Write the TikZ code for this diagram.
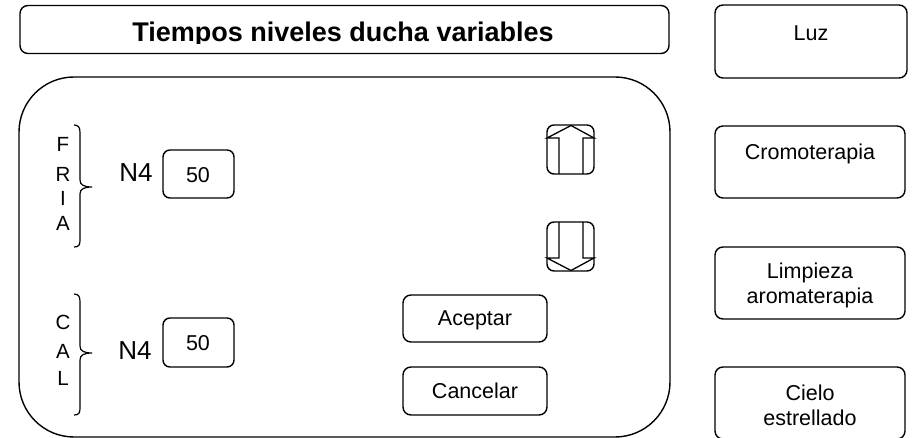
\documentclass[tikz,border=0pt]{standalone}
\usepackage{fontspec}
\setmainfont{Liberation Sans}
\begin{document}
\begin{tikzpicture}[x=1pt,y=-1pt,line width=1.4pt,
  rbox/.style={draw,rounded corners=8pt,minimum width=#1,inner sep=0pt},
  lbl/.style={font=\fontsize{21.5}{25}\selectfont,inner sep=0pt},
  big/.style={font=\fontsize{26}{30}\selectfont,inner sep=0pt},
  letter/.style={font=\fontsize{20.5}{24}\selectfont,inner sep=0pt}]
\useasboundingbox (0,0) rectangle (917,438);
% title
\node[rbox=649pt,minimum height=48pt] (title) at (344.5,29.5) {};
\begin{scope}
\clip (20,5) rectangle (669,44);
\node[anchor=base,inner sep=0pt,font=\fontsize{27}{31}\selectfont\bfseries] (ttext) at (343,42) {Tiempos niveles ducha variables};
\end{scope}
% right column
\node[rbox=192pt,minimum height=73pt] (luz) at (811,41.5) {};
\node[lbl] (luzt) at (811,33) {Luz};
\node[rbox=190pt,minimum height=72pt] (cromo) at (810,162) {};
\node[lbl] (cromot) at (810,154) {Cromoterapia};
\node[rbox=190pt,minimum height=72pt] (limp) at (810,283) {};
\node[lbl,align=center] (limpt) at (810,285) {Limpieza\\aromaterapia};
\node[rbox=190pt,minimum height=72pt] (cielo) at (810,403) {};
\node[lbl,align=center] (cielot) at (810,405) {Cielo\\estrellado};
% main panel
\node[draw,rounded corners=55pt,minimum width=651pt,minimum height=360pt,inner sep=0pt] (panel) at (344.5,257) {};
% FRIA
\node[letter] (f1) at (63,144) {F};
\node[letter] (f2) at (63,174) {R};
\node[letter] (f3) at (63,198) {I};
\node[letter] (f4) at (63,223) {A};
\draw[line width=1.2pt] (74,125) .. controls (79,125) and (80,128) .. (80,133) -- (80,180) .. controls (80,185) and (84,187) .. (92,187)
  .. controls (84,187) and (80,189) .. (80,194) -- (80,240) .. controls (80,245) and (79,247) .. (74,247);
\node[big] (n4a) at (136,173) {N4};
\node[draw,rounded corners=7pt,minimum width=71pt,minimum height=48pt,inner sep=0pt] (b50a) at (198.5,174) {};
\node[lbl] (v50a) at (198,175) {50};
% CAL
\node[letter] (c1) at (63,322) {C};
\node[letter] (c2) at (63,351) {A};
\node[letter] (c3) at (63,378) {L};
\draw[line width=1.2pt] (74,294) .. controls (79,294) and (80,297) .. (80,302) -- (80,346) .. controls (80,351) and (84,353) .. (92,353)
  .. controls (84,353) and (80,355) .. (80,360) -- (80,408) .. controls (80,413) and (79,415) .. (74,415);
\node[big] (n4b) at (135,351) {N4};
\node[draw,rounded corners=7pt,minimum width=71pt,minimum height=49pt,inner sep=0pt] (b50b) at (198.5,342.5) {};
\node[lbl] (v50b) at (198,343) {50};
% arrows
\node[draw,rounded corners=7pt,minimum width=47pt,minimum height=49pt,inner sep=0pt] (up) at (570.5,149.5) {};
\draw[line width=1.3pt] (559,174) -- (559,138) -- (547,138) -- (571,125.5) -- (594,138) -- (583,138) -- (583,174);
\node[draw,rounded corners=7pt,minimum width=47pt,minimum height=49pt,inner sep=0pt] (down) at (570.5,246.5) {};
\draw[line width=1.3pt] (559,222) -- (559,258) -- (547,258) -- (571,270.5) -- (594,258) -- (583,258) -- (583,222);
% buttons
\node[rbox=144pt,minimum height=47pt] (acc) at (475,318.5) {};
\node[lbl] (acct) at (475,320) {Aceptar};
\node[rbox=144pt,minimum height=48pt] (can) at (475,391) {};
\node[lbl] (cant) at (475,391) {Cancelar};
\end{tikzpicture}
\end{document}
